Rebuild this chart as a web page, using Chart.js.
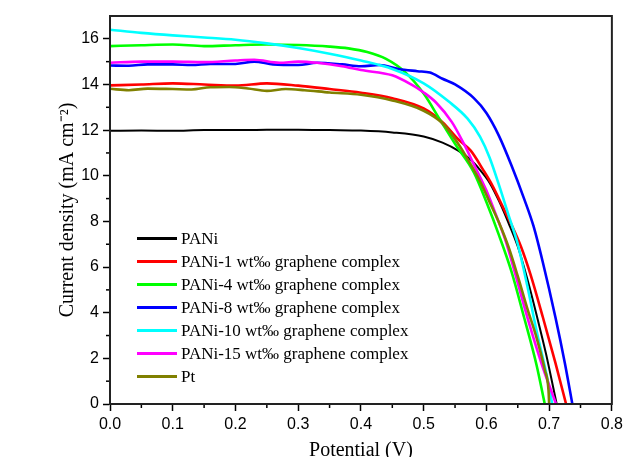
<!DOCTYPE html>
<html>
<head>
<meta charset="utf-8">
<script src="https://cdn.jsdelivr.net/npm/chart.js@4/dist/chart.umd.min.js"></script>
<style>
  html, body { margin: 0; padding: 0; background: #fff; }
  #wrap { width: 627px; height: 457px; }
</style>
</head>
<body>
<div id="wrap"><canvas id="jvChart"></canvas></div>
<script>
// J-V curves, potential (V) vs current density (mA cm-2)
const paniV = [0, 0.05, 0.1, 0.15, 0.2, 0.25, 0.3, 0.35, 0.4, 0.45, 0.5, 0.53, 0.555, 0.575, 0.59, 0.605, 0.62, 0.635, 0.65, 0.665, 0.68, 0.695, 0.712];
const paniJ = [11.97, 11.98, 11.97, 12.0, 12.0, 12.02, 12.02, 12.0, 11.98, 11.9, 11.72, 11.45, 11.1, 10.7, 10.25, 9.7, 8.9, 7.95, 6.9, 5.5, 3.9, 2.2, 0];

const g1V = [0, 0.05, 0.1, 0.15, 0.2, 0.25, 0.3, 0.35, 0.4, 0.45, 0.5, 0.53, 0.555, 0.575, 0.595, 0.61, 0.625, 0.64, 0.655, 0.67, 0.69, 0.71, 0.727];
const g1J = [13.96, 14.0, 14.05, 14.0, 13.95, 14.05, 13.95, 13.8, 13.64, 13.4, 12.95, 12.35, 11.6, 11.1, 10.25, 9.55, 8.7, 7.85, 6.9, 5.7, 3.8, 1.8, 0];

const g4V = [0, 0.05, 0.1, 0.15, 0.2, 0.25, 0.3, 0.35, 0.38, 0.41, 0.44, 0.47, 0.5, 0.525, 0.55, 0.58, 0.6, 0.62, 0.64, 0.66, 0.68, 0.693];
const g4J = [15.68, 15.72, 15.75, 15.68, 15.72, 15.75, 15.73, 15.66, 15.58, 15.42, 15.12, 14.55, 13.6, 12.5, 11.4, 10.15, 8.85, 7.4, 5.8, 3.8, 1.7, 0];

const g8V = [0, 0.03, 0.06, 0.1, 0.13, 0.16, 0.2, 0.23, 0.26, 0.3, 0.33, 0.37, 0.4, 0.43, 0.46, 0.49, 0.51, 0.53, 0.55, 0.58, 0.6, 0.62, 0.64, 0.66, 0.675, 0.69, 0.71, 0.725, 0.737];
const g8J = [14.83, 14.82, 14.88, 14.88, 14.85, 14.9, 14.9, 15.0, 14.88, 14.85, 14.95, 14.88, 14.8, 14.85, 14.68, 14.58, 14.52, 14.25, 14.0, 13.4, 12.75, 11.75, 10.45, 9.0, 7.8, 6.2, 3.8, 1.8, 0];

const g10V = [0, 0.05, 0.1, 0.15, 0.2, 0.25, 0.3, 0.35, 0.4, 0.45, 0.5, 0.54, 0.57, 0.59, 0.605, 0.62, 0.635, 0.65, 0.665, 0.68, 0.695, 0.705];
const g10J = [16.4, 16.26, 16.15, 16.06, 15.96, 15.8, 15.6, 15.35, 15.05, 14.68, 14.05, 13.25, 12.5, 11.7, 10.8, 9.6, 8.3, 7.0, 5.2, 3.2, 1.4, 0];

const g15V = [0, 0.05, 0.1, 0.15, 0.2, 0.23, 0.27, 0.3, 0.33, 0.37, 0.4, 0.45, 0.48, 0.5, 0.52, 0.545, 0.565, 0.58, 0.6, 0.615, 0.63, 0.645, 0.66, 0.675, 0.69, 0.711];
const g15J = [14.95, 15.0, 15.0, 14.98, 15.05, 15.08, 14.95, 15.0, 14.95, 14.8, 14.63, 14.4, 14.0, 13.65, 13.2, 12.35, 11.35, 10.5, 9.35, 8.3, 7.2, 5.8, 4.3, 2.9, 1.6, 0];

const ptV = [0, 0.03, 0.06, 0.1, 0.13, 0.16, 0.19, 0.22, 0.25, 0.28, 0.31, 0.35, 0.4, 0.45, 0.5, 0.53, 0.555, 0.575, 0.59, 0.605, 0.62, 0.635, 0.65, 0.665, 0.68, 0.693, 0.699, 0.7];
const ptJ = [13.81, 13.75, 13.82, 13.8, 13.78, 13.88, 13.89, 13.82, 13.72, 13.8, 13.75, 13.65, 13.55, 13.3, 12.85, 12.3, 11.4, 10.5, 9.75, 8.85, 7.95, 6.9, 5.6, 4.2, 2.9, 1.5, 0.6, 0];

const seriesLabels = [
  "PANi",
  "PANi-1 wt\u2030 graphene complex",
  "PANi-4 wt\u2030 graphene complex",
  "PANi-8 wt\u2030 graphene complex",
  "PANi-10 wt\u2030 graphene complex",
  "PANi-15 wt\u2030 graphene complex",
  "Pt"
];
const seriesColors = ["#000000", "#ff0000", "#00ff00", "#0000ff", "#00ffff", "#ff00ff", "#808000"];
const seriesData = [[paniV, paniJ], [g1V, g1J], [g4V, g4J], [g8V, g8J], [g10V, g10J], [g15V, g15J], [ptV, ptJ]];

const xTicks = [0, 0.1, 0.2, 0.3, 0.4, 0.5, 0.6, 0.7, 0.8];
const yTicks = [0, 2, 4, 6, 8, 10, 12, 14, 16];

const serif = "'Liberation Serif', 'Times New Roman', serif";
const sans = "'Liberation Sans', Arial, sans-serif";

// frame, minor ticks and the inside legend
const extrasPlugin = {
  id: "extras",
  afterDraw(chart) {
    const ctx = chart.ctx;
    const a = chart.chartArea;
    const xs = chart.scales.x, ys = chart.scales.y;
    ctx.save();
    // minor ticks
    ctx.strokeStyle = "#000";
    ctx.lineWidth = 1.5;
    for (let v = 0.05; v < 0.8; v += 0.1) {
      const px = xs.getPixelForValue(v);
      ctx.beginPath(); ctx.moveTo(px, a.bottom); ctx.lineTo(px, a.bottom + 4); ctx.stroke();
    }
    for (let v = 1; v < 17; v += 2) {
      const py = ys.getPixelForValue(v);
      ctx.beginPath(); ctx.moveTo(a.left, py); ctx.lineTo(a.left - 4, py); ctx.stroke();
    }
    // frame
    ctx.strokeStyle = "#222";
    ctx.lineWidth = 2;
    ctx.strokeRect(a.left, a.top, a.right - a.left, a.bottom - a.top);
    // legend
    ctx.font = "17px " + serif;
    ctx.textBaseline = "middle";
    ctx.fillStyle = "#000";
    chart.data.datasets.forEach((ds, i) => {
      const y = 238.5 + i * 23;
      ctx.strokeStyle = ds.borderColor;
      ctx.lineWidth = 3;
      ctx.beginPath(); ctx.moveTo(137, y); ctx.lineTo(177, y); ctx.stroke();
      ctx.fillText(ds.label, 181, y + 1);
    });
    ctx.restore();
  }
};

const datasets = seriesData.map(([vs, js], i) => ({
  label: seriesLabels[i],
  data: vs.map((v, k) => ({ x: v, y: js[k] })),
  borderColor: seriesColors[i],
  backgroundColor: seriesColors[i],
  borderWidth: i === 0 ? 2 : 2.6,
  pointRadius: 0,
  cubicInterpolationMode: "monotone",
  fill: false,
  order: seriesLabels.length - i
}));

new Chart(document.getElementById("jvChart"), {
  type: "line",
  data: { datasets: datasets },
  options: {
    responsive: true,
    maintainAspectRatio: false,
    animation: false,
    layout: { padding: { top: 16, right: 15, left: 0, bottom: 0 } },
    plugins: {
      legend: { display: false },
      tooltip: { enabled: false }
    },
    scales: {
      x: {
        type: "linear",
        min: 0,
        max: 0.8,
        afterFit: s => { s.height = 53; },
        afterBuildTicks: s => { s.ticks = xTicks.map(v => ({ value: v })); },
        grid: { drawOnChartArea: false, drawTicks: true, tickLength: 7, tickWidth: 1.5, tickColor: "#000" },
        border: { display: true, color: "#222", width: 2 },
        ticks: {
          color: "#000",
          padding: 4,
          maxRotation: 0,
          font: { family: sans, size: 16 },
          callback: v => Number(v).toFixed(1)
        },
        title: {
          display: true,
          text: "Potential (V)",
          color: "#000",
          font: { family: serif, size: 20 },
          padding: { top: 0, bottom: -6 }
        }
      },
      y: {
        min: 0,
        max: 17,
        afterFit: s => { s.width = 110; },
        afterBuildTicks: s => { s.ticks = yTicks.map(v => ({ value: v })); },
        grid: { drawOnChartArea: false, drawTicks: true, tickLength: 7, tickWidth: 1.5, tickColor: "#000" },
        border: { display: true, color: "#222", width: 2 },
        ticks: {
          color: "#000",
          padding: 4,
          font: { family: sans, size: 16 },
          callback: v => String(v)
        },
        title: {
          display: true,
          text: "Current density (mA cm\u207B\u00B2)",
          color: "#000",
          font: { family: serif, size: 20 },
          padding: { top: 56, bottom: 0 }
        }
      }
    }
  },
  plugins: [extrasPlugin]
});
</script>
</body>
</html>
